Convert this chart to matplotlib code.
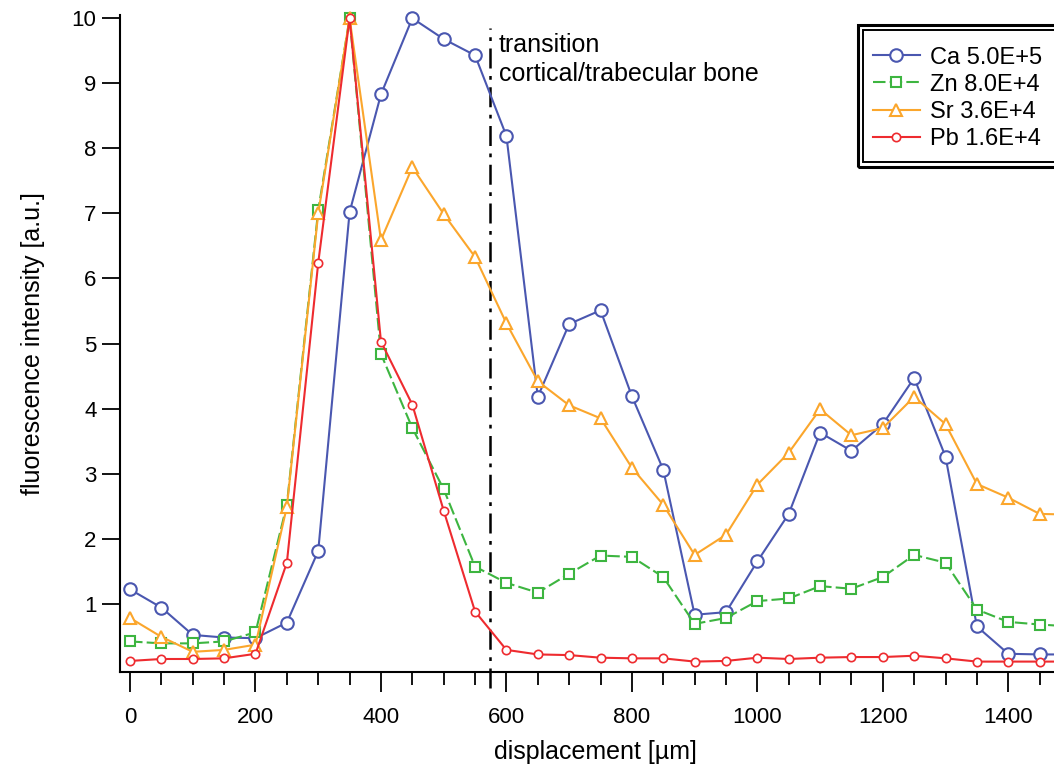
import matplotlib
matplotlib.use("Agg")
import matplotlib.pyplot as plt
from matplotlib.patches import Rectangle
from matplotlib.ticker import MultipleLocator

plt.rcParams['font.family'] = ['Liberation Sans', 'DejaVu Sans']

# displacement positions in µm
displacement = list(range(0, 1550, 50))

ca = [1.22, 0.94, 0.52, 0.48, 0.47, 0.71, 1.81, 7.02, 8.83, 10.0, 9.68, 9.43,
      8.19, 4.18, 5.30, 5.51, 4.19, 3.06, 0.83, 0.87, 1.65, 2.38, 3.63, 3.35,
      3.76, 4.47, 3.26, 0.65, 0.23, 0.22, 0.22]
zn = [0.42, 0.39, 0.39, 0.42, 0.56, 2.52, 7.05, 10.0, 4.84, 3.70, 2.76, 1.57,
      1.32, 1.17, 1.46, 1.74, 1.72, 1.41, 0.69, 0.78, 1.04, 1.08, 1.27, 1.23,
      1.41, 1.75, 1.63, 0.91, 0.72, 0.68, 0.65]
sr = [0.78, 0.49, 0.26, 0.29, 0.37, 2.49, 7.00, 10.0, 6.59, 7.71, 6.99, 6.33,
      5.31, 4.42, 4.05, 3.85, 3.09, 2.52, 1.75, 2.06, 2.83, 3.32, 3.99, 3.59,
      3.70, 4.18, 3.76, 2.84, 2.63, 2.38, 2.37]
pb = [0.12, 0.15, 0.15, 0.16, 0.23, 1.63, 6.24, 10.0, 5.03, 4.06, 2.43, 0.88,
      0.29, 0.22, 0.21, 0.17, 0.16, 0.16, 0.11, 0.12, 0.17, 0.15, 0.17, 0.18,
      0.18, 0.20, 0.16, 0.11, 0.11, 0.11, 0.11]

labels = ["Ca 5.0E+5", "Zn 8.0E+4", "Sr 3.6E+4", "Pb 1.6E+4"]
transition_x = 574

fig = plt.figure(figsize=(10.54, 7.65), dpi=100)
ax = fig.add_axes([120 / 1054, 1 - 672 / 765, (1071 - 120) / 1054, (672 - 15) / 765])

c_ca, c_zn, c_sr, c_pb = '#4a57b0', '#3db540', '#fba62c', '#ee2b2f'

ax.plot(displacement, ca, color=c_ca, lw=1.5, marker='o', ms=9, mfc='white',
        mec=c_ca, mew=1.5, label=labels[0], clip_on=False, zorder=3)
ax.plot(displacement, zn, color=c_zn, lw=1.5, ls=(0, (6, 2)), marker='s', ms=7.5,
        mfc='white', mec=c_zn, mew=1.5, label=labels[1], clip_on=False, zorder=3)
ax.plot(displacement, sr, color=c_sr, lw=1.5, marker='^', ms=8, mfc='white',
        mec=c_sr, mew=1.5, label=labels[2], clip_on=False, zorder=3)
ax.plot(displacement, pb, color=c_pb, lw=1.5, marker='o', ms=6, mfc='white',
        mec=c_pb, mew=1.2, label=labels[3], clip_on=False, zorder=4)

# boundary between cortical and trabecular bone
ax.plot([transition_x, transition_x], [-0.3, 9.85], color='black', lw=1.8,
        ls=(0, (8, 3, 1.5, 3)), clip_on=False, zorder=2)
ax.text(transition_x + 14, 9.78, "transition\ncortical/trabecular bone",
        fontsize=18, va='top', ha='left', linespacing=1.3)

ax.set_xlim(-16, 1500)
ax.set_ylim(-0.05, 10.05)
ax.xaxis.set_major_locator(MultipleLocator(200))
ax.xaxis.set_minor_locator(MultipleLocator(50))
ax.set_yticks(range(1, 11))

for s in ['top', 'right']:
    ax.spines[s].set_visible(False)
for s in ['left', 'bottom']:
    ax.spines[s].set_linewidth(1.5)

ax.tick_params(axis='x', which='major', direction='out', length=14.5, width=1.3,
               labelsize=16, pad=11)
ax.tick_params(axis='x', which='minor', direction='out', length=9, width=1.3)
ax.tick_params(axis='y', direction='out', length=13, width=1.3, labelsize=16, pad=4)

ax.set_xlabel("displacement [µm]", fontsize=18, labelpad=8)
ax.set_ylabel("fluorescence intensity [a.u.]", fontsize=18, labelpad=19)

# double-line legend frame
fig.patches.append(Rectangle((858 / 1054, 1 - 167 / 765), 220 / 1054, 142 / 765,
                             transform=fig.transFigure, fill=False, lw=2.2,
                             ec='black', zorder=5))
fig.patches.append(Rectangle((863 / 1054, 1 - 162 / 765), 210 / 1054, 132 / 765,
                             transform=fig.transFigure, fill=True, fc='white',
                             lw=1.4, ec='black', zorder=5))
leg = fig.legend(loc='upper left', bbox_to_anchor=(856 / 1054, 1 - 30 / 765),
                 frameon=False, fontsize=17, handlelength=2.0, handletextpad=0.45,
                 labelspacing=0.22, borderpad=0.2)
leg.set_zorder(6)

fig.savefig("out.png", dpi=100)
